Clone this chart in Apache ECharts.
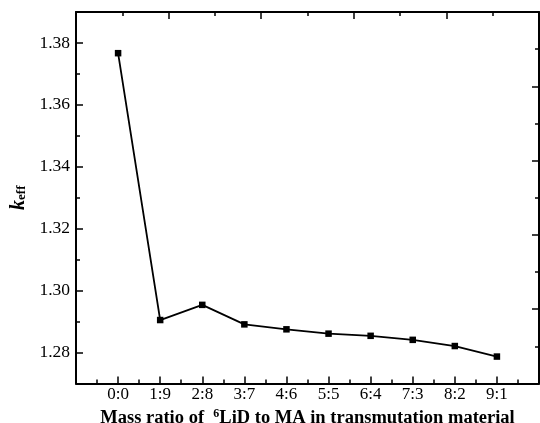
<!DOCTYPE html>
<html>
<head>
<meta charset="utf-8">
<script src="https://cdn.jsdelivr.net/npm/echarts@6/dist/echarts.min.js"></script>
<style>html,body{margin:0;padding:0;background:#fff}#c{width:540px;height:423px}</style>
</head>
<body>
<div id="c"></div>
<script>
const categories = ['0:0','1:9','2:8','3:7','4:6','5:5','6:4','7:3','8:2','9:1'];
const keff = [1.3767, 1.2905, 1.2954, 1.2891, 1.2875, 1.2861, 1.2854, 1.2841, 1.2821, 1.2787];
const yTickLabels = [1.28, 1.30, 1.32, 1.34, 1.36, 1.38];
const yMinorTicks = [1.29, 1.31, 1.33, 1.35, 1.37];

const font = 'Liberation Serif, Times New Roman, serif';
const lineStyle = {color: '#000', width: 2};
const chart = echarts.init(document.getElementById('c'), null, {renderer: 'canvas'});
chart.setOption({
  animation: false,
  backgroundColor: '#fff',
  grid: {left: 76, right: 1, top: 12, bottom: 39.5, containLabel: false, outerBoundsMode: 'none'},
  xAxis: [{
    type: 'value', position: 'bottom', min: -1, max: 10, interval: 1,
    axisLine: {show: true, onZero: false, lineStyle: lineStyle},
    axisTick: {show: true, inside: true, length: 7, lineStyle: {color: '#000', width: 1.5}},
    minorTick: {show: true, splitNumber: 2, length: 4, lineStyle: {color: '#000', width: 1.5}},
    splitLine: {show: false},
    axisLabel: {
      color: '#000', fontFamily: font, fontSize: 17, margin: 3,
      formatter: function (v) { const i = Math.round(v); return (i >= 0 && i < categories.length) ? categories[i] : ''; }
    },
    name: '{t|Mass ratio of  }{s|6}{t|LiD to MA in transmutation material}',
    nameLocation: 'middle', nameGap: 18,
    nameTextStyle: {
      rich: {
        t: {fontFamily: font, fontSize: 18.5, fontWeight: 'bold', color: '#000'},
        s: {fontFamily: font, fontSize: 12, fontWeight: 'bold', color: '#000', padding: [0, 0, 8, 0]}
      }
    }
  }, {
    type: 'value', position: 'top', min: 0, max: 10, interval: 2,
    axisLine: {show: true, onZero: false, lineStyle: lineStyle},
    axisTick: {show: true, inside: true, length: 7, lineStyle: {color: '#000', width: 1.5}},
    minorTick: {show: true, splitNumber: 2, length: 4, lineStyle: {color: '#000', width: 1.5}},
    splitLine: {show: false},
    axisLabel: {show: false}
  }],
  yAxis: [{
    type: 'value', position: 'left', min: 1.27, max: 1.39, interval: 0.01,
    axisLine: {show: true, onZero: false, lineStyle: lineStyle},
    axisTick: {show: true, inside: true, length: 7, customValues: yTickLabels, lineStyle: {color: '#000', width: 1.5}},
    splitLine: {show: false},
    axisLabel: {
      color: '#000', fontFamily: font, fontSize: 17.5, margin: 6, customValues: yTickLabels,
      formatter: function (v) { return v.toFixed(2); }
    },
    name: '{k|k}{s|eff}',
    nameLocation: 'middle', nameGap: 47, nameRotate: 90,
    nameTextStyle: {
      rich: {
        k: {fontFamily: font, fontSize: 20, fontStyle: 'italic', fontWeight: 'bold', color: '#000'},
        s: {fontFamily: font, fontSize: 13, fontWeight: 'bold', color: '#000', padding: [6, 0, 0, 0]}
      }
    }
  }, {
    type: 'value', position: 'left', min: 1.27, max: 1.39, interval: 0.01,
    axisLine: {show: false, onZero: false},
    axisTick: {show: true, inside: true, length: 4, customValues: yMinorTicks, lineStyle: {color: '#000', width: 1.5}},
    splitLine: {show: false},
    axisLabel: {show: false}
  }, {
    type: 'value', position: 'right', min: 0, max: 10, interval: 2,
    axisLine: {show: true, onZero: false, lineStyle: lineStyle},
    axisTick: {show: true, inside: true, length: 7, lineStyle: {color: '#000', width: 1.5}},
    minorTick: {show: true, splitNumber: 2, length: 4, lineStyle: {color: '#000', width: 1.5}},
    splitLine: {show: false},
    axisLabel: {show: false}
  }],
  series: [{
    type: 'line', xAxisIndex: 0, yAxisIndex: 0,
    data: keff.map(function (v, i) { return [i, v]; }),
    symbol: 'rect', symbolSize: 6.5, showSymbol: true,
    lineStyle: {color: '#000', width: 1.8},
    itemStyle: {color: '#000'}
  }]
});
</script>
</body>
</html>
